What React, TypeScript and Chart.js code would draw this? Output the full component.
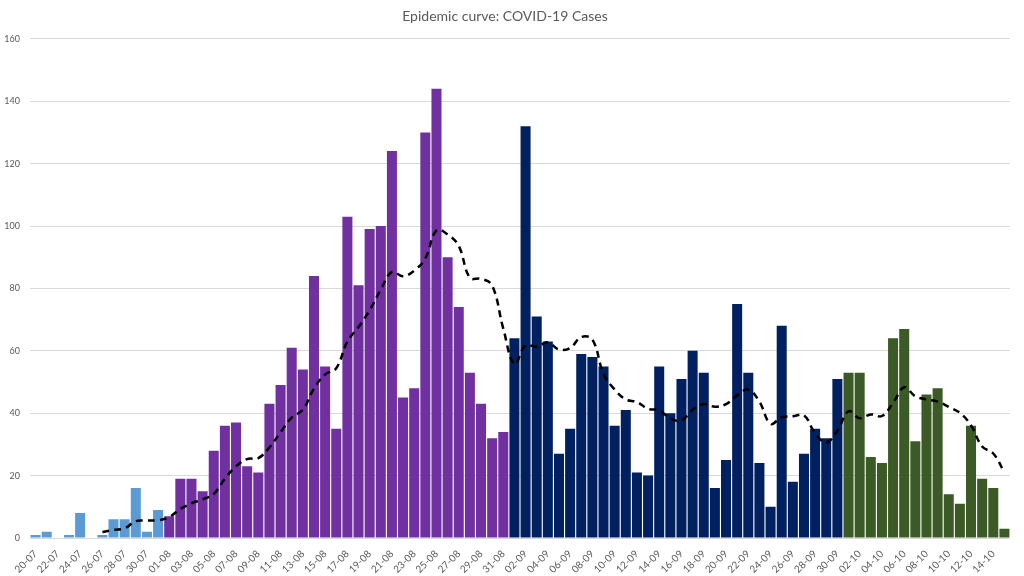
import { useEffect, useRef } from "react";
import { Chart, registerables } from "chart.js";

Chart.register(...registerables);

// Category labels (day-month)
const julyDays = ["20-07", "21-07", "22-07", "23-07", "24-07", "25-07", "26-07", "27-07", "28-07", "29-07", "30-07", "31-07"];
const augustDays = ["01-08", "02-08", "03-08", "04-08", "05-08", "06-08", "07-08", "08-08", "09-08", "10-08", "11-08", "12-08", "13-08", "14-08", "15-08", "16-08", "17-08", "18-08", "19-08", "20-08", "21-08", "22-08", "23-08", "24-08", "25-08", "26-08", "27-08", "28-08", "29-08", "30-08", "31-08"];
const septemberDays = ["01-09", "02-09", "03-09", "04-09", "05-09", "06-09", "07-09", "08-09", "09-09", "10-09", "11-09", "12-09", "13-09", "14-09", "15-09", "16-09", "17-09", "18-09", "19-09", "20-09", "21-09", "22-09", "23-09", "24-09", "25-09", "26-09", "27-09", "28-09", "29-09", "30-09"];
const octoberDays = ["01-10", "02-10", "03-10", "04-10", "05-10", "06-10", "07-10", "08-10", "09-10", "10-10", "11-10", "12-10", "13-10", "14-10", "15-10"];

// Daily cases per month
const julyCases = [1, 2, 0, 1, 8, 0, 1, 6, 6, 16, 2, 9];
const augustCases = [7, 19, 19, 15, 28, 36, 37, 23, 21, 43, 49, 61, 54, 84, 55, 35, 103, 81, 99, 100, 124, 45, 48, 130, 144, 90, 74, 53, 43, 32, 34];
const septemberCases = [64, 132, 71, 63, 27, 35, 59, 58, 55, 36, 41, 21, 20, 55, 40, 51, 60, 53, 16, 25, 75, 53, 24, 10, 68, 18, 27, 35, 32, 51];
const octoberCases = [53, 53, 26, 24, 64, 67, 31, 46, 48, 14, 11, 36, 19, 16, 3];

// Dashed trend line
const trendLine = [
  null, null, null, null, null, null, 1.9, 2.6, 3.1, 5.4, 5.6, 5.7,
  6.7, 9.3, 11.1, 12.4, 14.1, 19, 23, 25.3, 25.6, 29, 33.9, 38.6, 41.1, 47.9, 52.4, 54.4, 63, 67.6, 73, 79.6, 85.3, 83.9, 85.7, 89.6, 98.6, 97.3, 93.6, 83.4, 83.1, 80.9, 67.1,
  55.7, 61.7, 61.3, 62.7, 60.4, 60.9, 64.4, 63.6, 52.6, 47.6, 44.4, 43.6, 41.4, 40.9, 38.3, 37.7, 41.1, 42.9, 42.1, 42.9, 45.7, 47.6, 43.7, 36.6, 38.7, 39, 39.3, 33.6, 30.6, 34.4,
  40.6, 38.4, 39.6, 39.1, 43.3, 48.3, 45.4, 44.4, 43.7, 42, 40.1, 36.1, 29.3, 27.1, 21,
];

const yTicks = [0, 20, 40, 60, 80, 100, 120, 140, 160];

const BLUE = "#5B9BD5";
const PURPLE = "#7030A0";
const NAVY = "#002060";
const GREEN = "#3B5A26";
const TEXT = "#595959";
const FONT = "Lato";

export default function App() {
  const ref = useRef<HTMLCanvasElement>(null);

  useEffect(() => {
    document.body.style.margin = "0";
    const labels = [...julyDays, ...augustDays, ...septemberDays, ...octoberDays];
    const cases = [...julyCases, ...augustCases, ...septemberCases, ...octoberCases];
    const colors = [
      ...julyCases.map(() => BLUE),
      ...augustCases.map(() => PURPLE),
      ...septemberCases.map(() => NAVY),
      ...octoberCases.map(() => GREEN),
    ];
    const chart = new Chart(ref.current as HTMLCanvasElement, {
      data: {
        labels,
        datasets: [
          {
            type: "line",
            label: "Trend",
            data: trendLine,
            borderColor: "#000000",
            borderWidth: 2.5,
            borderDash: [7, 5],
            pointRadius: 0,
            tension: 0.4,
            fill: false,
            order: 0,
          },
          {
            type: "bar",
            label: "Cases",
            data: cases,
            backgroundColor: colors,
            barPercentage: 0.9,
            categoryPercentage: 1,
            order: 1,
          },
        ],
      } as any,
      options: {
        responsive: false,
        animation: false,
        layout: { padding: { left: 0, right: 14, top: 0, bottom: 0 } },
        plugins: {
          legend: { display: false },
          tooltip: { enabled: false },
          title: {
            display: true,
            text: "Epidemic curve: COVID-19 Cases",
            color: TEXT,
            font: { family: FONT, size: 14, weight: "normal" },
            padding: { top: 8, bottom: 14 },
          },
        },
        scales: {
          x: {
            grid: { display: false },
            border: { display: false },
            afterFit: (axis: any) => {
              axis.height = 38;
            },
            ticks: {
              autoSkip: false,
              maxRotation: 45,
              minRotation: 45,
              padding: 2,
              color: TEXT,
              font: { family: FONT, size: 10 },
              callback: (_v: any, i: number) => (i % 2 === 0 ? labels[i] : ""),
            },
          },
          y: {
            min: 0,
            max: 160,
            afterBuildTicks: (axis: any) => {
              axis.ticks = yTicks.map((v) => ({ value: v }));
            },
            afterFit: (axis: any) => {
              axis.width = 30;
            },
            grid: { color: "#d9d9d9", drawTicks: false },
            border: { display: false },
            ticks: {
              color: TEXT,
              font: { family: FONT, size: 9 },
              padding: 10,
            },
          },
        },
      } as any,
    });
    return () => chart.destroy();
  }, []);

  return <canvas ref={ref} width={1024} height={576} style={{ display: "block" }} />;
}
